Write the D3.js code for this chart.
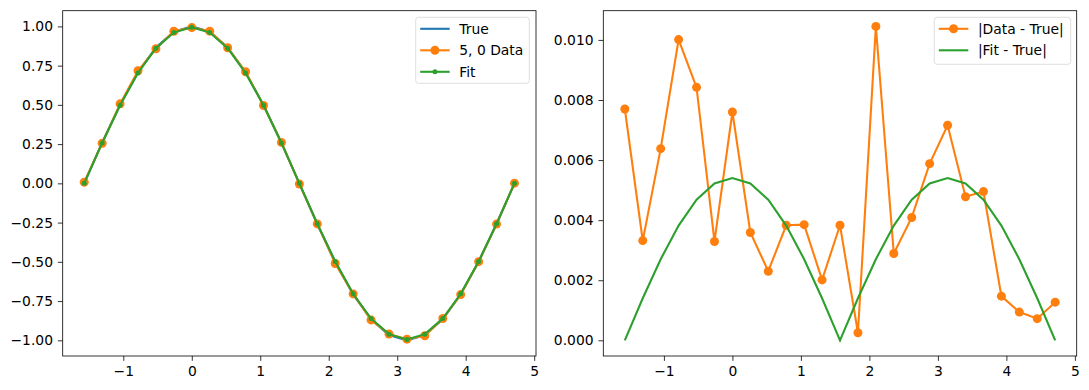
<!DOCTYPE html>
<html>
<head>
<meta charset="utf-8">
<script src="https://cdn.jsdelivr.net/npm/d3@7/dist/d3.min.js"></script>
<style>
  html, body { margin: 0; padding: 0; background: #fff; }
  svg { display: block; font-family: "DejaVu Sans", sans-serif; }
</style>
</head>
<body>
<svg id="chart" width="1089" height="390"></svg>
<script>
// ---- data ----
const xVals = [-1.5708, -1.3090, -1.0472, -0.7854, -0.5236, -0.2618, 0, 0.2618, 0.5236, 0.7854, 1.0472, 1.3090,
  1.5708, 1.8326, 2.0944, 2.3562, 2.6180, 2.8798, 3.1416, 3.4034, 3.6652, 3.9270, 4.1888, 4.4506, 4.7124];
const trueVals = [0, 0.25882, 0.5, 0.70711, 0.86603, 0.96593, 1, 0.96593, 0.86603, 0.70711, 0.5, 0.25882,
  0, -0.25882, -0.5, -0.70711, -0.86603, -0.96593, -1, -0.96593, -0.86603, -0.70711, -0.5, -0.25882, 0];
const dataVals = [0.00770, 0.25550, 0.50638, 0.71712, 0.85761, 0.96922, 0.99240, 0.96952, 0.86373, 0.71094, 0.49615, 0.26083,
  -0.00383, -0.25857, -0.51045, -0.70422, -0.87012, -0.96005, -0.99284, -0.97071, -0.86108, -0.70858, -0.49906, -0.25954, 0.00127];
const fitVals = [0, 0.25742, 0.49730, 0.70329, 0.86135, 0.96071, 0.99460, 0.96071, 0.86135, 0.70329, 0.49730, 0.25742,
  0, -0.25742, -0.49730, -0.70329, -0.86135, -0.96071, -0.99460, -0.96071, -0.86135, -0.70329, -0.49730, -0.25742, 0];
const xTicks = [-1, 0, 1, 2, 3, 4, 5];
const yTicksLeft = [-1, -0.75, -0.5, -0.25, 0, 0.25, 0.5, 0.75, 1];
const yTicksRight = [0, 0.002, 0.004, 0.006, 0.008, 0.010];
const legendLeft = ["True", "5, 0 Data", "Fit"];
const legendRight = ["|Data - True|", "|Fit - True|"];

const dataErr = dataVals.map((d, i) => Math.abs(d - trueVals[i]));
const fitErr = fitVals.map((d, i) => Math.abs(d - trueVals[i]));

// ---- style ----
const C_BLUE = "#1f77b4", C_ORANGE = "#ff7f0e", C_GREEN = "#2ca02c";
const FS = 13.89, TICK = 4.86, PAD = 4.86, LW = 2.08;

const svg = d3.select("#chart");
const T = 10.7, B = 356;
const panels = [{ l: 62.7, r: 536 }, { l: 603.3, r: 1076.7 }];

function padDomain(vals) {
  const mn = d3.min(vals), mx = d3.max(vals), m = (mx - mn) * 0.05;
  return [mn - m, mx + m];
}
const xDom = padDomain(xVals);

function drawAxes(g, x, y, yTicks, yFmt) {
  const xa = g.append("g").attr("transform", `translate(0,${B})`)
    .call(d3.axisBottom(x).tickValues(xTicks).tickFormat(d3.format("d")).tickSizeOuter(0).tickSize(TICK).tickPadding(PAD));
  const ya = g.append("g").attr("transform", `translate(${x.range()[0]},0)`)
    .call(d3.axisLeft(y).tickValues(yTicks).tickFormat(d3.format(yFmt)).tickSizeOuter(0).tickSize(TICK).tickPadding(PAD));
  [xa, ya].forEach(a => {
    a.select(".domain").remove();
    a.selectAll("line").attr("stroke", "#000").attr("stroke-width", 0.8);
    a.selectAll("text").attr("font-size", FS).attr("font-family", "DejaVu Sans").attr("fill", "#000");
  });
  g.append("rect").attr("x", x.range()[0]).attr("y", T)
    .attr("width", x.range()[1] - x.range()[0]).attr("height", B - T)
    .attr("fill", "none").attr("stroke", "#000").attr("stroke-width", 0.8);
}

function legend(g, x0, y0, w, h, items) {
  g.append("rect").attr("x", x0).attr("y", y0).attr("width", w).attr("height", h)
    .attr("rx", 2.8).attr("fill", "#fff").attr("fill-opacity", 0.8)
    .attr("stroke", "#d6d6d6").attr("stroke-width", 0.8);
  items.forEach((it, i) => {
    const cy = y0 + 11.5 + i * 21.5;
    const lx0 = x0 + 4.5, lx1 = x0 + 34;
    g.append("line").attr("x1", lx0).attr("x2", lx1).attr("y1", cy).attr("y2", cy)
      .attr("stroke", it.color).attr("stroke-width", LW);
    if (it.r) g.append("circle").attr("cx", (lx0 + lx1) / 2).attr("cy", cy).attr("r", it.r).attr("fill", it.color);
    g.append("text").attr("x", x0 + 43.6).attr("y", cy + 5).attr("font-size", FS)
      .attr("font-family", "DejaVu Sans").attr("fill", "#000").text(it.label);
  });
}

// ---- left panel ----
{
  const p = panels[0];
  const x = d3.scaleLinear().domain(xDom).range([p.l, p.r]);
  const y = d3.scaleLinear().domain(padDomain(trueVals.concat(dataVals, fitVals))).range([B, T]);
  const g = svg.append("g");
  const line = vals => d3.line().x((d, i) => x(xVals[i])).y(d => y(d))(vals);
  g.append("path").attr("d", line(trueVals)).attr("fill", "none").attr("stroke", C_BLUE).attr("stroke-width", LW);
  g.append("path").attr("d", line(dataVals)).attr("fill", "none").attr("stroke", C_ORANGE).attr("stroke-width", LW);
  g.selectAll(".dm").data(dataVals).join("circle").attr("cx", (d, i) => x(xVals[i])).attr("cy", d => y(d))
    .attr("r", 4.5).attr("fill", C_ORANGE);
  g.append("path").attr("d", line(fitVals)).attr("fill", "none").attr("stroke", C_GREEN).attr("stroke-width", LW);
  g.selectAll(".fm").data(fitVals).join("circle").attr("cx", (d, i) => x(xVals[i])).attr("cy", d => y(d))
    .attr("r", 2.5).attr("fill", C_GREEN);
  drawAxes(g, x, y, yTicksLeft, ".2f");
  legend(g, 415.7, 17.3, 113.6, 66, [
    { label: legendLeft[0], color: C_BLUE, r: 0 },
    { label: legendLeft[1], color: C_ORANGE, r: 4.5 },
    { label: legendLeft[2], color: C_GREEN, r: 2.5 }
  ]);
}

// ---- right panel ----
{
  const p = panels[1];
  const x = d3.scaleLinear().domain(xDom).range([p.l, p.r]);
  const y = d3.scaleLinear().domain(padDomain(dataErr.concat(fitErr))).range([B, T]);
  const g = svg.append("g");
  const line = vals => d3.line().x((d, i) => x(xVals[i])).y(d => y(d))(vals);
  g.append("path").attr("d", line(dataErr)).attr("fill", "none").attr("stroke", C_ORANGE).attr("stroke-width", LW);
  g.selectAll(".dm").data(dataErr).join("circle").attr("cx", (d, i) => x(xVals[i])).attr("cy", d => y(d))
    .attr("r", 4.5).attr("fill", C_ORANGE);
  g.append("path").attr("d", line(fitErr)).attr("fill", "none").attr("stroke", C_GREEN).attr("stroke-width", LW);
  drawAxes(g, x, y, yTicksRight, ".3f");
  legend(g, 934.3, 17.3, 136.4, 47, [
    { label: legendRight[0], color: C_ORANGE, r: 4.5 },
    { label: legendRight[1], color: C_GREEN, r: 0 }
  ]);
}
</script>
</body>
</html>
